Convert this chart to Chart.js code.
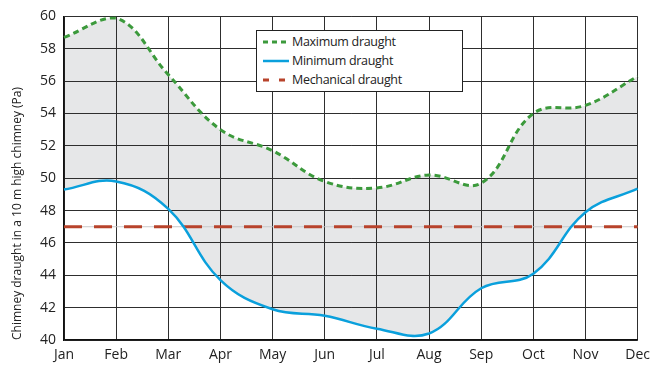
<!DOCTYPE html>
<html>
<head>
<meta charset="utf-8">
<script src="https://cdn.jsdelivr.net/npm/chart.js@4/dist/chart.umd.min.js"></script>
<style>
  body { margin: 0; background: #fff; }
  #wrap { position: relative; width: 657px; height: 367px; }
  #legend {
    position: absolute; left: 256px; top: 30px; width: 205px; height: 60px;
    border: 1.5px solid #222; background: #fff;
    font-family: "Open Sans", sans-serif; font-size: 12.5px; color: #222;
  }
  #legend .row { position: absolute; left: 5px; height: 18px; line-height: 18px; }
  #legend svg { position: absolute; left: 0; top: 7px; }
  #legend span { position: absolute; left: 30px; white-space: nowrap; letter-spacing: -0.3px; }
</style>
</head>
<body>
<div id="wrap">
  <canvas id="mycanvas" width="657" height="367"></canvas>
  <div id="legend">
    <div class="row" style="top:2px"><svg width="28" height="4"><line x1="1" y1="2" x2="27" y2="2" stroke="#3c9a3c" stroke-width="3" stroke-dasharray="5,4"/></svg><span>Maximum draught</span></div>
    <div class="row" style="top:21px"><svg width="28" height="4"><line x1="1" y1="2" x2="27" y2="2" stroke="#0aa0dc" stroke-width="2.5"/></svg><span>Minimum draught</span></div>
    <div class="row" style="top:40px"><svg width="28" height="4"><line x1="1" y1="2" x2="27" y2="2" stroke="#b8432b" stroke-width="3" stroke-dasharray="6,10"/></svg><span>Mechanical draught</span></div>
  </div>
</div>
<script>
var months = ["Jan","Feb","Mar","Apr","May","Jun","Jul","Aug","Sep","Oct","Nov","Dec"];
var maxDraught = [58.7, 59.9, 56.4, 53.0, 51.7, 49.8, 49.4, 50.2, 49.7, 54.0, 54.5, 56.3];
var minDraught = [49.3, 49.8, 48.1, 43.7, 41.9, 41.5, 40.7, 40.4, 43.2, 44.1, 47.9, 49.35];
var mechDraught = [47, 47, 47, 47, 47, 47, 47, 47, 47, 47, 47, 47];

var ctx = document.getElementById("mycanvas");
var chart = new Chart(ctx, {
  type: 'line',
  data: {
    labels: months,
    datasets: [
      {
        label: 'Maximum draught',
        data: maxDraught,
        borderColor: '#3c9a3c',
        borderWidth: 3,
        borderDash: [6, 4],
        backgroundColor: '#e6e7e8',
        fill: '+1',
        tension: 0.4,
        pointRadius: 0
      },
      {
        label: 'Minimum draught',
        data: minDraught,
        borderColor: '#0aa0dc',
        borderWidth: 2.5,
        fill: false,
        tension: 0.4,
        pointRadius: 0
      },
      {
        label: 'Mechanical draught',
        data: mechDraught,
        borderColor: '#b8432b',
        borderWidth: 3,
        borderDash: [18, 12],
        fill: false,
        pointRadius: 0
      },
      {
        label: 'guide',
        data: mechDraught,
        borderColor: '#c8c8c8',
        borderWidth: 1,
        fill: false,
        pointRadius: 0,
        order: 5
      }
    ]
  },
  options: {
    responsive: false,
    animation: false,
    layout: { padding: { top: 15, right: 18, left: 0, bottom: 0 } },
    plugins: {
      legend: { display: false },
      tooltip: { enabled: false },
      filler: { drawTime: 'beforeDraw' }
    },
    scales: {
      x: {
        offset: false,
        grid: { color: '#2e2e2e', lineWidth: 1, drawTicks: false },
        border: { color: '#111', width: 1.5 },
        ticks: { color: '#222', font: { family: 'Open Sans', size: 14 }, padding: 7, maxRotation: 0 },
        afterFit: function(s) { s.height = 27; }
      },
      y: {
        min: 40, max: 60,
        grid: { color: '#2e2e2e', lineWidth: 1, drawTicks: false },
        border: { color: '#111', width: 1.5 },
        ticks: { stepSize: 2, color: '#222', font: { family: 'Open Sans', size: 14 }, padding: 8 },
        title: { display: true, text: 'Chimney draught in a 10 m high chimney (Pa)', color: '#222', align: 'start',
                 font: { family: 'Open Sans', size: 12 }, padding: { top: 10, bottom: 0 } },
        afterFit: function(s) { s.width = 64; }
      }
    }
  }
});
</script>
</body>
</html>
